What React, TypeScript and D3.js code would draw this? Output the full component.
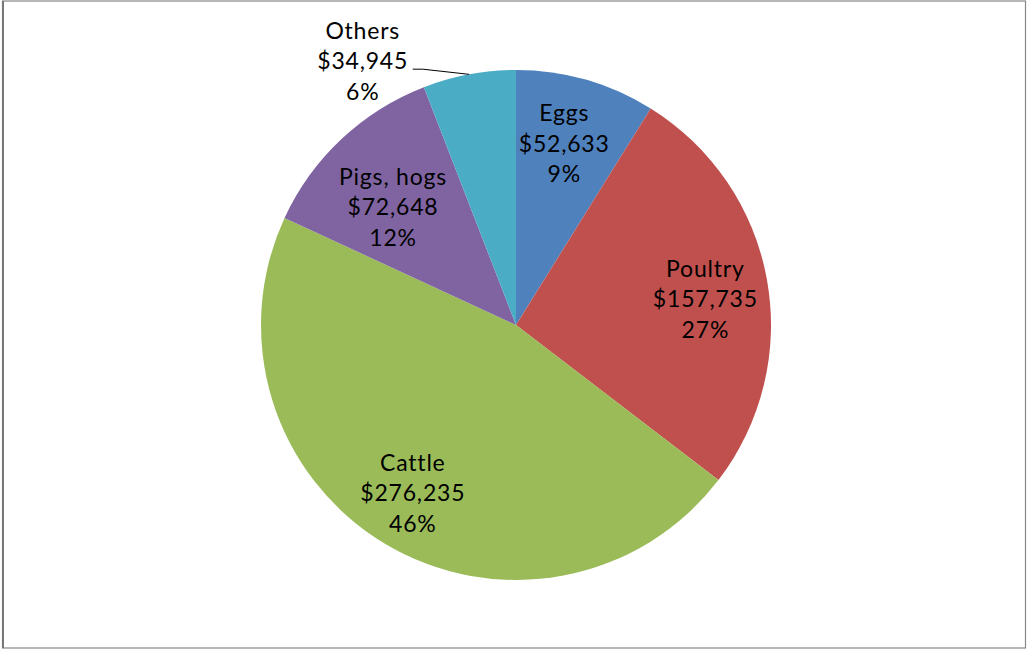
import React from "react";
import * as d3 from "d3";

const categories = ["Eggs", "Poultry", "Cattle", "Pigs, hogs", "Others"];
const values = [52633, 157735, 276235, 72648, 34945];
const colors = ["#4F81BD", "#C0504D", "#9BBB59", "#8064A2", "#4BACC6"];

// label placement (style): radius factor and angle offset (radians)
const labelRadius = [0.74, 0.75, 0.77, 0.67, 1.2];
const labelAngleShift = [-0.02, 0.04, 0.01, -0.05, -0.34];

const W = 1027;
const H = 650;
const cx = 516;
const cy = 325;
const R = 255;
const lineGap = 30.5;

export default function App() {
  const total = d3.sum(values);
  const pie = d3.pie<number>().sort(null).value((d) => d);
  const arcs = pie(values);
  const arcGen = d3.arc<d3.PieArcDatum<number>>().innerRadius(0).outerRadius(R);
  const fmt = d3.format(",");

  return (
    <div style={{ position: "absolute", left: 0, top: 0 }}>
      <svg width={W} height={H} style={{ display: "block" }}>
        <rect x={0} y={0} width={W} height={H} fill="#fff" />
        <rect x={2.5} y={1} width={1023} height={647} fill="none" stroke="#888" strokeWidth={1.2} />
        <line x1={3} y1={1} x2={3} y2={648} stroke="#777" strokeWidth={2} />
        <g transform={`translate(${cx},${cy})`}>
          {arcs.map((a, i) => (
            <path key={i} d={arcGen(a) || ""} fill={colors[i]} />
          ))}
          {arcs.map((a, i) => {
            const mid = (a.startAngle + a.endAngle) / 2 + labelAngleShift[i];
            const r = R * labelRadius[i];
            const x = r * Math.sin(mid);
            const y = -r * Math.cos(mid);
            const pct = Math.round((values[i] / total) * 100) + "%";
            const lines = [categories[i], "$" + fmt(values[i]), pct];
            const outside = labelRadius[i] > 1;
            const edgeAngle = (a.startAngle + a.endAngle) / 2;
            const ex = R * Math.sin(edgeAngle);
            const ey = -R * Math.cos(edgeAngle);
            return (
              <g key={"l" + i}>
                {outside && (
                  <polyline
                    points={`${x + 50},${y + 9} ${x + 60},${y + 9} ${ex},${ey}`}
                    fill="none"
                    stroke="#000"
                    strokeWidth={1}
                  />
                )}
                {lines.map((t, j) => (
                  <text
                    key={j}
                    x={x}
                    y={y + (j - 1) * lineGap}
                    textAnchor="middle"
                    dominantBaseline="central"
                    fontFamily="Lato, 'Open Sans', sans-serif"
                    fontSize={23}
                    letterSpacing={0.8}
                    fill="#000"
                  >
                    {t}
                  </text>
                ))}
              </g>
            );
          })}
        </g>
      </svg>
    </div>
  );
}
